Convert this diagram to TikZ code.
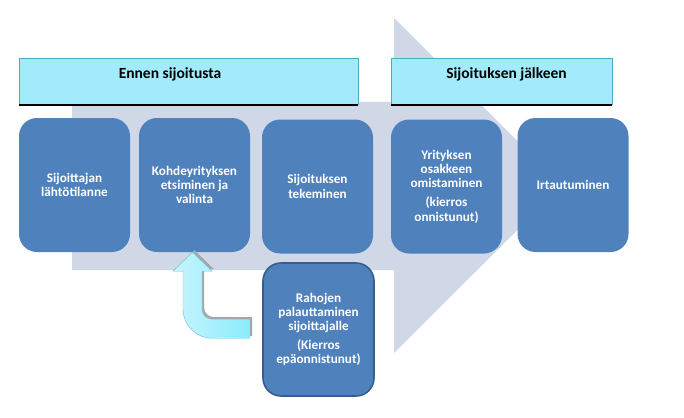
\documentclass[tikz,border=0pt]{standalone}
\usepackage{fontspec}
\setmainfont{Carlito}
\definecolor{flowgrey}{HTML}{D0D8E8}
\definecolor{stepblue}{HTML}{4F81BD}
\definecolor{stepedge}{HTML}{385D8A}
\definecolor{headfill}{HTML}{A2EBFC}
\definecolor{headedge}{HTML}{4BACC6}
\definecolor{backedge}{HTML}{6CC0D8}
\tikzset{
  phase/.style={draw=headedge,fill=headfill,minimum width=#1,minimum height=46pt,inner sep=0pt},
  phasetext/.style={yshift=7pt,font=\bfseries\fontsize{15.5}{17}\selectfont},
  stepbox/.style={fill=stepblue,rounded corners=18pt,minimum width=111pt,minimum height=134pt,
    inner sep=0pt,text=white,align=center,font=\bfseries\fontsize{13.2}{14.2}\selectfont},
  failbox/.style={stepbox,draw=stepedge,line width=1.6pt,minimum width=111pt,minimum height=133pt}
}
\begin{document}
\begin{tikzpicture}[x=1pt,y=-1pt]
  \useasboundingbox (0,0) rectangle (684,417);
  % background arrow
  \fill[flowgrey] (72,102) -- (394,102) -- (394,18) -- (562,185.5) -- (394,353) -- (394,270) -- (72,270) -- cycle;
  % phases
  \node[phase=339pt,label={[phasetext,xshift=-18.5pt]center:Ennen sijoitusta}] (before) at (188.5,81) {};
  \node[phase=221pt,label={[phasetext,xshift=5pt]center:Sijoituksen jälkeen}] (after) at (501.5,81) {};
  \draw[line width=2pt] ([yshift=-1pt]before.south west) -- ([yshift=-1pt]before.south east);
  \draw[line width=2pt] ([yshift=-1pt]after.south west) -- ([yshift=-1pt]after.south east);
  % steps
  \node[stepbox] (start) at (74.5,185) {Sijoittajan\\lähtötilanne};
  \node[stepbox] (search) at (194.5,185) {Kohdeyrityksen\\etsiminen ja\\valinta};
  \node[stepbox] (invest) at (317.5,186.5) {Sijoituksen\\tekeminen};
  \node[stepbox] (own) at (446.5,186.5) {Yrityksen\\osakkeen\\omistaminen\\[5pt](kierros\\onnistunut)};
  \node[stepbox] (exit) at (573,185) {Irtautuminen};
  \node[failbox] (refund) at (318.5,329.5) {Rahojen\\palauttaminen\\sijoittajalle\\[5pt](Kierros\\epäonnistunut)};
  % return arrow
  \coordinate (tip) at (search.south -| 192.5,0);
  \fill[black!35] ([xshift=2pt,yshift=2pt]tip) -- ++(19.5,19) -- ++(-10,0) -- ++(0,38) .. controls ++(0,5.5) and ++(-5.5,0) .. ++(10,10)
    -- ++(38,0) -- ++(0,19) -- ++(-38,0) .. controls ++(-16,0) and ++(0,16) .. ++(-29,-29) -- ++(0,-38) -- ++(-10,0) -- cycle;
  \shade[left color=headfill!60!white,right color=headfill!85!cyan,draw=backedge]
    (tip) -- ++(19.5,19) -- ++(-10,0) -- ++(0,38) .. controls ++(0,5.5) and ++(-5.5,0) .. ++(10,10)
    -- ++(38,0) -- ++(0,19) -- ++(-38,0) .. controls ++(-16,0) and ++(0,16) .. ++(-29,-29) -- ++(0,-38) -- ++(-10,0) -- cycle;
\end{tikzpicture}
\end{document}
